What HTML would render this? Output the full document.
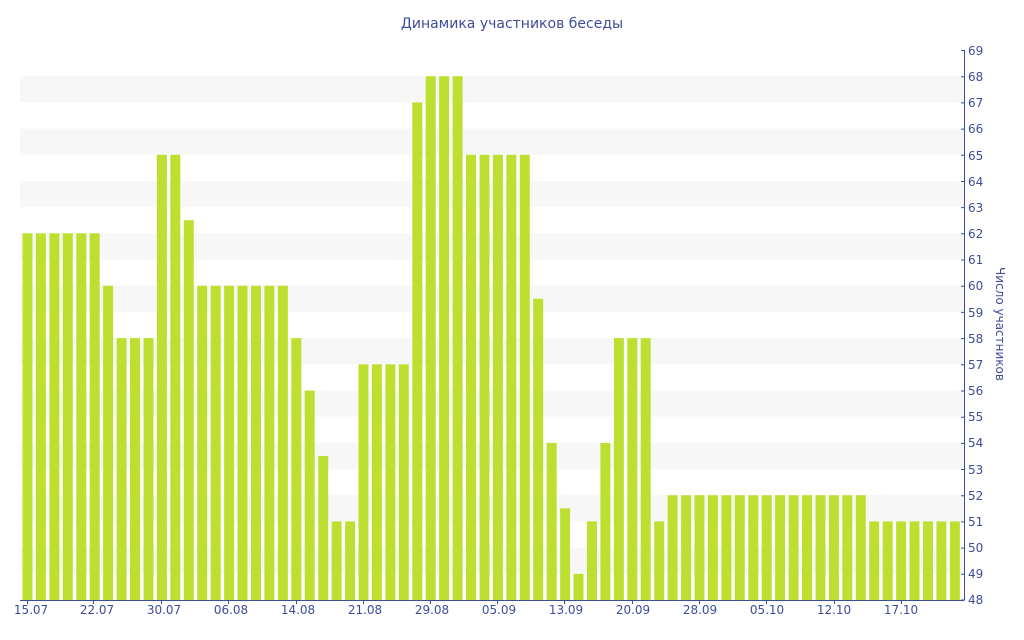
<!DOCTYPE html>
<html><head><meta charset="utf-8"><style>
html,body{margin:0;padding:0;background:#fff;width:1024px;height:640px;overflow:hidden}
text{font-family:"DejaVu Sans","Liberation Sans",sans-serif;fill:#3d4d9a}
</style></head><body>
<svg width="1024" height="640" xmlns="http://www.w3.org/2000/svg">
<g fill="#f7f7f7">
<rect x="20" y="76.2" width="944" height="26.2"/>
<rect x="20" y="128.6" width="944" height="26.2"/>
<rect x="20" y="181" width="944" height="26.2"/>
<rect x="20" y="233.3" width="944" height="26.2"/>
<rect x="20" y="285.7" width="944" height="26.2"/>
<rect x="20" y="338.1" width="944" height="26.2"/>
<rect x="20" y="390.5" width="944" height="26.2"/>
<rect x="20" y="442.9" width="944" height="26.2"/>
<rect x="20" y="495.2" width="944" height="26.2"/>
<rect x="20" y="547.6" width="944" height="26.2"/>
</g>
<g fill="#bde030">
<rect x="22.5" y="233.3" width="10" height="366.7"/>
<rect x="35.9" y="233.3" width="10" height="366.7"/>
<rect x="49.4" y="233.3" width="10" height="366.7"/>
<rect x="62.8" y="233.3" width="10" height="366.7"/>
<rect x="76.3" y="233.3" width="10" height="366.7"/>
<rect x="89.7" y="233.3" width="10" height="366.7"/>
<rect x="103.1" y="285.7" width="10" height="314.3"/>
<rect x="116.6" y="338.1" width="10" height="261.9"/>
<rect x="130" y="338.1" width="10" height="261.9"/>
<rect x="143.5" y="338.1" width="10" height="261.9"/>
<rect x="156.9" y="154.8" width="10" height="445.2"/>
<rect x="170.3" y="154.8" width="10" height="445.2"/>
<rect x="183.8" y="220.2" width="10" height="379.8"/>
<rect x="197.2" y="285.7" width="10" height="314.3"/>
<rect x="210.7" y="285.7" width="10" height="314.3"/>
<rect x="224.1" y="285.7" width="10" height="314.3"/>
<rect x="237.5" y="285.7" width="10" height="314.3"/>
<rect x="251" y="285.7" width="10" height="314.3"/>
<rect x="264.4" y="285.7" width="10" height="314.3"/>
<rect x="277.9" y="285.7" width="10" height="314.3"/>
<rect x="291.3" y="338.1" width="10" height="261.9"/>
<rect x="304.7" y="390.5" width="10" height="209.5"/>
<rect x="318.2" y="456" width="10" height="144"/>
<rect x="331.6" y="521.4" width="10" height="78.6"/>
<rect x="345.1" y="521.4" width="10" height="78.6"/>
<rect x="358.5" y="364.3" width="10" height="235.7"/>
<rect x="371.9" y="364.3" width="10" height="235.7"/>
<rect x="385.4" y="364.3" width="10" height="235.7"/>
<rect x="398.8" y="364.3" width="10" height="235.7"/>
<rect x="412.3" y="102.4" width="10" height="497.6"/>
<rect x="425.7" y="76.2" width="10" height="523.8"/>
<rect x="439.1" y="76.2" width="10" height="523.8"/>
<rect x="452.6" y="76.2" width="10" height="523.8"/>
<rect x="466" y="154.8" width="10" height="445.2"/>
<rect x="479.5" y="154.8" width="10" height="445.2"/>
<rect x="492.9" y="154.8" width="10" height="445.2"/>
<rect x="506.3" y="154.8" width="10" height="445.2"/>
<rect x="519.8" y="154.8" width="10" height="445.2"/>
<rect x="533.2" y="298.8" width="10" height="301.2"/>
<rect x="546.7" y="442.9" width="10" height="157.1"/>
<rect x="560.1" y="508.3" width="10" height="91.7"/>
<rect x="573.5" y="573.8" width="10" height="26.2"/>
<rect x="587" y="521.4" width="10" height="78.6"/>
<rect x="600.4" y="442.9" width="10" height="157.1"/>
<rect x="613.9" y="338.1" width="10" height="261.9"/>
<rect x="627.3" y="338.1" width="10" height="261.9"/>
<rect x="640.7" y="338.1" width="10" height="261.9"/>
<rect x="654.2" y="521.4" width="10" height="78.6"/>
<rect x="667.6" y="495.2" width="10" height="104.8"/>
<rect x="681.1" y="495.2" width="10" height="104.8"/>
<rect x="694.5" y="495.2" width="10" height="104.8"/>
<rect x="707.9" y="495.2" width="10" height="104.8"/>
<rect x="721.4" y="495.2" width="10" height="104.8"/>
<rect x="734.8" y="495.2" width="10" height="104.8"/>
<rect x="748.3" y="495.2" width="10" height="104.8"/>
<rect x="761.7" y="495.2" width="10" height="104.8"/>
<rect x="775.1" y="495.2" width="10" height="104.8"/>
<rect x="788.6" y="495.2" width="10" height="104.8"/>
<rect x="802" y="495.2" width="10" height="104.8"/>
<rect x="815.5" y="495.2" width="10" height="104.8"/>
<rect x="828.9" y="495.2" width="10" height="104.8"/>
<rect x="842.3" y="495.2" width="10" height="104.8"/>
<rect x="855.8" y="495.2" width="10" height="104.8"/>
<rect x="869.2" y="521.4" width="10" height="78.6"/>
<rect x="882.7" y="521.4" width="10" height="78.6"/>
<rect x="896.1" y="521.4" width="10" height="78.6"/>
<rect x="909.5" y="521.4" width="10" height="78.6"/>
<rect x="923" y="521.4" width="10" height="78.6"/>
<rect x="936.4" y="521.4" width="10" height="78.6"/>
<rect x="949.9" y="521.4" width="10" height="78.6"/>
</g>
<line x1="20" y1="600.5" x2="964" y2="600.5" stroke="#3d4d9a" stroke-width="1"/>
<line x1="964.5" y1="50" x2="964.5" y2="600" stroke="#3d4d9a" stroke-width="1"/>
<g stroke="#3d4d9a">
<path d="M27.5 600v4M93.5 600v4M161.5 600v4M228.5 600v4M296.5 600v4M363.5 600v4M430.5 600v4M497.5 600v4M564.5 600v4M632.5 600v4M699.5 600v4M766.5 600v4M834.5 600v4M901.5 600v4"/>
<path d="M961 50.5h4M961 76.7h4M961 102.9h4M961 129.1h4M961 155.3h4M961 181.5h4M961 207.6h4M961 233.8h4M961 260h4M961 286.2h4M961 312.4h4M961 338.6h4M961 364.8h4M961 391h4M961 417.2h4M961 443.4h4M961 469.5h4M961 495.7h4M961 521.9h4M961 548.1h4M961 574.3h4M961 600h4"/>
</g>
<g font-size="12" text-anchor="middle">
<text x="31" y="614">15.07</text><text x="97" y="614">22.07</text><text x="164" y="614">30.07</text><text x="231" y="614">06.08</text><text x="298" y="614">14.08</text><text x="365" y="614">21.08</text><text x="432" y="614">29.08</text><text x="499" y="614">05.09</text><text x="566" y="614">13.09</text><text x="633" y="614">20.09</text><text x="700" y="614">28.09</text><text x="767" y="614">05.10</text><text x="834" y="614">12.10</text><text x="901" y="614">17.10</text>
</g>
<g font-size="12">
<text x="968" y="55">69</text><text x="968" y="81">68</text><text x="968" y="107">67</text><text x="968" y="133">66</text><text x="968" y="160">65</text><text x="968" y="186">64</text><text x="968" y="212">63</text><text x="968" y="238">62</text><text x="968" y="264">61</text><text x="968" y="290">60</text><text x="968" y="317">59</text><text x="968" y="343">58</text><text x="968" y="369">57</text><text x="968" y="395">56</text><text x="968" y="421">55</text><text x="968" y="447">54</text><text x="968" y="474">53</text><text x="968" y="500">52</text><text x="968" y="526">51</text><text x="968" y="552">50</text><text x="968" y="578">49</text><text x="968" y="604">48</text>
</g>
<text x="996" y="324" font-size="12" text-anchor="middle" transform="rotate(90 996 324)">Число участников</text>
<text x="512" y="28" font-size="14" text-anchor="middle">Динамика участников беседы</text>
</svg>
</body></html>
